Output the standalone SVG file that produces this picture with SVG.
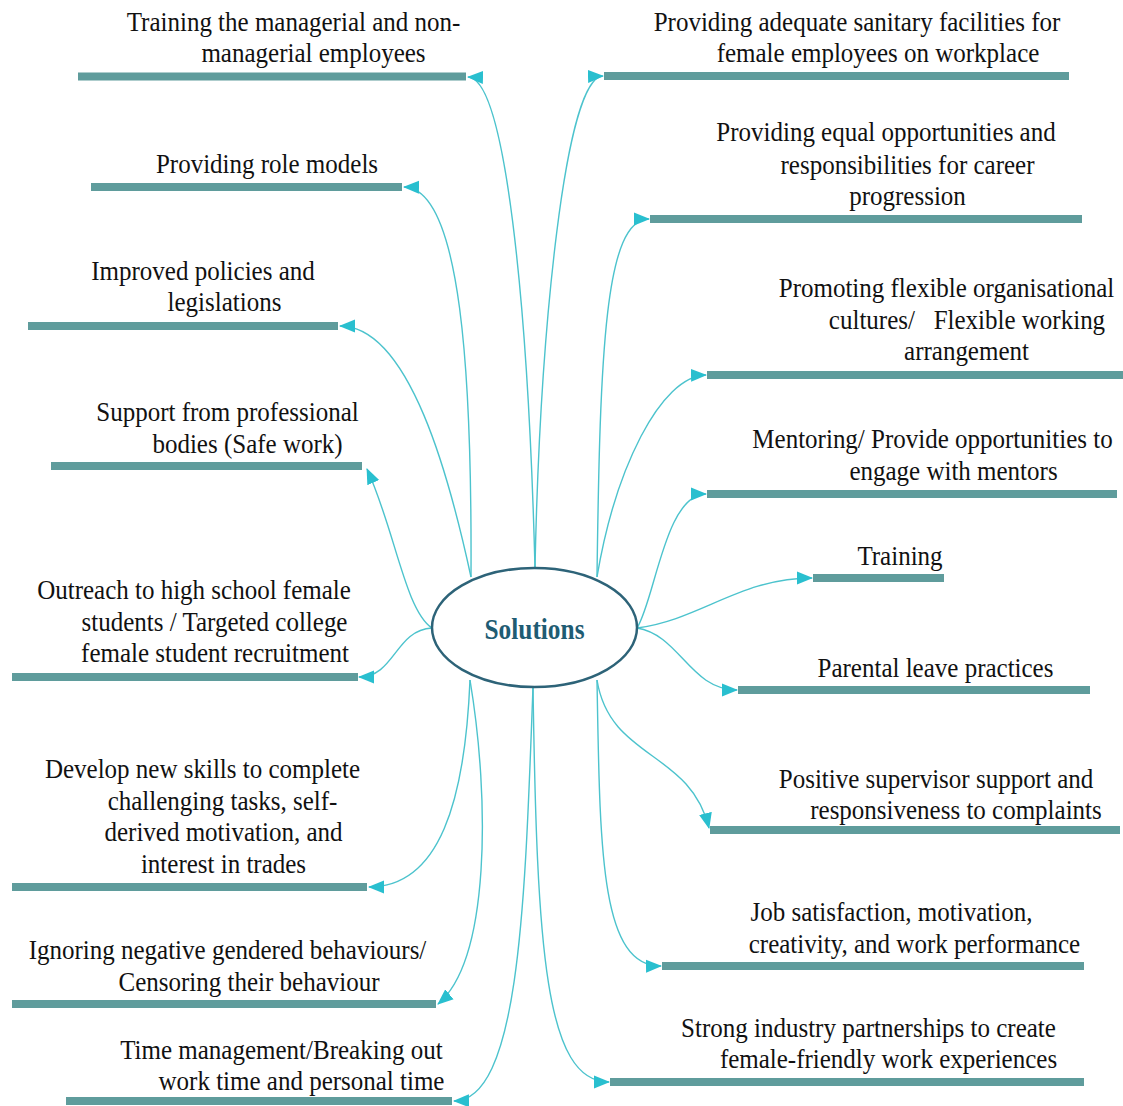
<svg xmlns="http://www.w3.org/2000/svg" width="1123" height="1106" viewBox="0 0 1123 1106">
<style>
.bg{fill:#ffffff}
.bar{fill:#5f9c9c}
.lbl{font-family:"Liberation Serif","Times New Roman",serif;font-size:28px;fill:#111;text-anchor:middle}
.con{fill:none;stroke:#4cc3cd;stroke-width:1.4;marker-end:url(#arr)}
.hub{fill:#fff;stroke:#2d6378;stroke-width:2.5}
.hubt{font-family:"Liberation Serif","Times New Roman",serif;font-size:29px;font-weight:bold;fill:#1f5c73;text-anchor:middle}
</style>
<defs>
<marker id="arr" viewBox="0 0 16 16" refX="15" refY="8" markerWidth="16" markerHeight="16" markerUnits="userSpaceOnUse" orient="auto">
<path d="M0,1.5 L16,8 L0,14.5 z" fill="#29bfcf"/>
</marker>
</defs>
<rect class="bg" x="0" y="0" width="1123" height="1106"/>

<g id="connectors">
<path class="con" d="M535,568 C528,300 505,78 468,77"/>
<path class="con" d="M471,577 C472,380 462,188 404,187"/>
<path class="con" d="M471,577 C450,480 410,326 340,326"/>
<path class="con" d="M432,628 C405,610 395,530 367,469"/>
<path class="con" d="M432,628 C395,630 395,677 359,677"/>
<path class="con" d="M470,680 C465,800 440,887 369,887"/>
<path class="con" d="M470,680 C490,800 490,960 438,1004"/>
<path class="con" d="M533,687 C525,900 520,1100 454,1101"/>
<path class="con" d="M535,568 C540,330 565,77 603,76"/>
<path class="con" d="M597,577 C600,350 605,219 649,219"/>
<path class="con" d="M597,577 C615,470 660,376 706,375"/>
<path class="con" d="M637,628 C655,600 665,494 706,494"/>
<path class="con" d="M637,628 C700,620 740,578 812,578"/>
<path class="con" d="M637,628 C680,635 690,690 737,690"/>
<path class="con" d="M597,680 C610,760 690,750 709,828"/>
<path class="con" d="M597,680 C600,850 600,967 661,966"/>
<path class="con" d="M533,687 C537,950 545,1082 609,1082"/>
</g>

<g id="hub">
<ellipse class="hub" cx="534.5" cy="627.5" rx="102.5" ry="59.5"/>
<text class="hubt" transform="translate(534.5 639) scale(0.874 1)">Solutions</text>
</g>

<g id="l1">
<rect class="bar" x="78" y="72.5" width="388" height="8"/>
<text class="lbl" transform="translate(293.5 31) scale(0.893 1)">Training the managerial and non-</text>
<text class="lbl" transform="translate(313.5 62) scale(0.893 1)">managerial employees</text>
</g>
<g id="l2">
<rect class="bar" x="91" y="183" width="311" height="8"/>
<text class="lbl" transform="translate(267 173) scale(0.893 1)">Providing role models</text>
</g>
<g id="l3">
<rect class="bar" x="28" y="322" width="310" height="8"/>
<text class="lbl" transform="translate(203 280) scale(0.893 1)">Improved policies and</text>
<text class="lbl" transform="translate(224.5 311) scale(0.893 1)">legislations</text>
</g>
<g id="l4">
<rect class="bar" x="51" y="462" width="311" height="8"/>
<text class="lbl" transform="translate(227.5 421) scale(0.893 1)">Support from professional</text>
<text class="lbl" transform="translate(247.5 453) scale(0.893 1)">bodies (Safe work)</text>
</g>
<g id="l5">
<rect class="bar" x="12" y="673" width="346" height="8"/>
<text class="lbl" transform="translate(194 599) scale(0.893 1)">Outreach to high school female</text>
<text class="lbl" transform="translate(214.5 631) scale(0.893 1)">students / Targeted college</text>
<text class="lbl" transform="translate(215 662) scale(0.893 1)">female student recruitment</text>
</g>
<g id="l6">
<rect class="bar" x="12" y="883" width="355" height="8"/>
<text class="lbl" transform="translate(202.5 778) scale(0.893 1)">Develop new skills to complete</text>
<text class="lbl" transform="translate(222.5 810) scale(0.893 1)">challenging tasks, self-</text>
<text class="lbl" transform="translate(223.5 841) scale(0.893 1)">derived motivation, and</text>
<text class="lbl" transform="translate(223.5 873) scale(0.893 1)">interest in trades</text>
</g>
<g id="l7">
<rect class="bar" x="12" y="1000" width="424" height="8"/>
<text class="lbl" transform="translate(227.5 959) scale(0.893 1)">Ignoring negative gendered behaviours/</text>
<text class="lbl" transform="translate(249 991) scale(0.893 1)">Censoring their behaviour</text>
</g>
<g id="l8">
<rect class="bar" x="66" y="1097" width="386" height="8"/>
<text class="lbl" transform="translate(281.5 1059) scale(0.893 1)">Time management/Breaking out</text>
<text class="lbl" transform="translate(301.5 1090) scale(0.893 1)">work time and personal time</text>
</g>

<g id="r1">
<rect class="bar" x="604" y="72" width="465" height="8"/>
<text class="lbl" transform="translate(857 31) scale(0.893 1)">Providing adequate sanitary facilities for</text>
<text class="lbl" transform="translate(878 62) scale(0.893 1)">female employees on workplace</text>
</g>
<g id="r2">
<rect class="bar" x="650" y="215" width="432" height="8"/>
<text class="lbl" transform="translate(886 141) scale(0.893 1)">Providing equal opportunities and</text>
<text class="lbl" transform="translate(907.5 174) scale(0.893 1)">responsibilities for career</text>
<text class="lbl" transform="translate(907.5 205) scale(0.893 1)">progression</text>
</g>
<g id="r3">
<rect class="bar" x="707" y="371" width="416" height="8"/>
<text class="lbl" transform="translate(946.5 297) scale(0.893 1)">Promoting flexible organisational</text>
<text class="lbl" transform="translate(967 329) scale(0.893 1)" xml:space="preserve" style="white-space:pre">cultures/   Flexible working</text>
<text class="lbl" transform="translate(966.5 360) scale(0.893 1)">arrangement</text>
</g>
<g id="r4">
<rect class="bar" x="707" y="490" width="410" height="8"/>
<text class="lbl" transform="translate(932.5 448) scale(0.893 1)">Mentoring/ Provide opportunities to</text>
<text class="lbl" transform="translate(953.5 480) scale(0.893 1)">engage with mentors</text>
</g>
<g id="r5">
<rect class="bar" x="813" y="574" width="131" height="8"/>
<text class="lbl" transform="translate(900 565) scale(0.893 1)">Training</text>
</g>
<g id="r6">
<rect class="bar" x="738" y="686" width="352" height="8"/>
<text class="lbl" transform="translate(935.5 677) scale(0.893 1)">Parental leave practices</text>
</g>
<g id="r7">
<rect class="bar" x="710" y="826" width="410" height="8"/>
<text class="lbl" transform="translate(936 788) scale(0.893 1)">Positive supervisor support and</text>
<text class="lbl" transform="translate(956 819) scale(0.893 1)">responsiveness to complaints</text>
</g>
<g id="r8">
<rect class="bar" x="662" y="962" width="422" height="8"/>
<text class="lbl" transform="translate(891.5 921) scale(0.893 1)">Job satisfaction, motivation,</text>
<text class="lbl" transform="translate(914.5 953) scale(0.893 1)">creativity, and work performance</text>
</g>
<g id="r9">
<rect class="bar" x="610" y="1078" width="474" height="8"/>
<text class="lbl" transform="translate(868.5 1037) scale(0.893 1)">Strong industry partnerships to create</text>
<text class="lbl" transform="translate(888.5 1068) scale(0.893 1)">female-friendly work experiences</text>
</g>
</svg>
